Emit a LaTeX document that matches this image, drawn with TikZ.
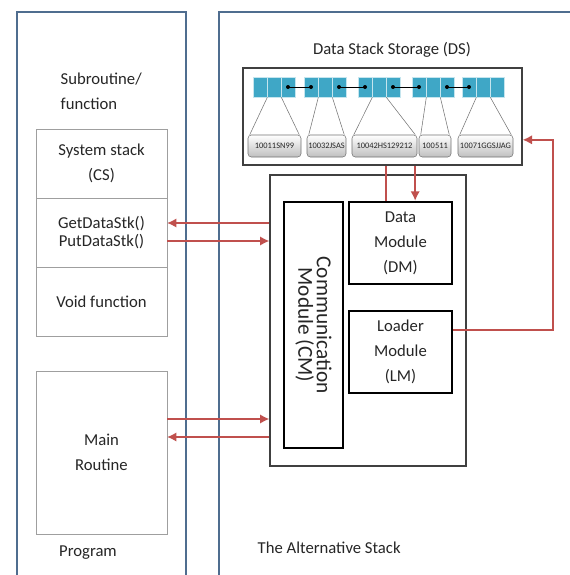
\documentclass[tikz,border=0pt]{standalone}
\usepackage{fontspec}
\setmainfont{Carlito}
\usetikzlibrary{positioning,arrows.meta}
\definecolor{panelblue}{HTML}{4F6D8F}
\definecolor{linkred}{HTML}{C0504D}
\definecolor{cellblue}{HTML}{3FA7C6}

\begin{document}
\begin{tikzpicture}[
  x=0.75pt, y=-0.75pt,
  node distance=0pt,
  every node/.style={text=black!85, font=\fontsize{12.5}{18.75}\selectfont},
  panel/.style={draw=panelblue, line width=1.1pt},
  slot/.style={draw=gray!75, line width=0.6pt, minimum width=98.25pt,
    minimum height=51.75pt, inner sep=0pt, outer sep=0pt, align=center},
  module/.style={draw=black, line width=1.8pt, minimum width=77.25pt,
    minimum height=61.5pt, inner sep=0pt, align=center},
  frame/.style={draw=black!75, line width=0.8pt, inner sep=0pt},
  cell/.style={fill=cellblue, draw=cellblue!30, line width=0.5pt,
    minimum width=10.5pt, minimum height=15pt, inner sep=0pt},
  tag/.style={draw=black!55, rounded corners=2.5pt, top color=white,
    bottom color=black!25, minimum height=16.5pt, inner sep=0pt,
    font=\fontsize{6.3}{7}\selectfont},
  fan/.style={draw=black!55, line width=0.4pt},
  flow/.style={draw=linkred, line width=2.1pt, -{Latex[length=7pt,width=7pt]}}
]
\useasboundingbox[fill=white] (0,0) rectangle (570,575);

% the two panels
\draw[panel] (17,575) -- (17,12) -- (186,12) -- (186,575);
\draw[panel] (219,575) -- (219,12) -- (570,12);

% program side
\node[align=left, anchor=west] (sub) at (56,91) {Subroutine/\\function};
\node[slot] (cs) at (101.5,163.5) {System stack\\(CS)};
\node[slot, below=of cs, font=\fontsize{12.5}{13.5}\selectfont] (gp) {GetDataStk()\\PutDataStk()};
\node[slot, below=of gp] (vf) {Void function};
\node[slot, minimum height=122.25pt] (mr) at (101.5,452.5) {Main\\Routine};
\node (prog) at (88,553) {Program};

% alternative stack side
\node[frame, minimum width=147pt, minimum height=218.25pt] (cont) at (368,320.5) {};
\node[module, rotate=-90, minimum width=184.5pt, minimum height=44.25pt,
  font=\fontsize{16}{14}\selectfont] (cm) at (313.5,325) {Communication\\Module (CM)};
\node[module] (dm) at (400.5,243) {Data\\Module\\(DM)};
\node[module] (lm) at (400.5,352) {Loader\\Module\\(LM)};
\node[frame, line width=1pt, minimum width=209.25pt, minimum height=72.75pt] (ds) at (382.5,116.5) {};
\node (dstitle) at (392,50) {Data Stack Storage (DS)};
\node[anchor=west] (alt) at (253,548) {The Alternative Stack};

% data stack cells
\foreach \g/\x in {1/253,2/304,3/358,4/412,5/462}
  \foreach \c in {1,2,3}
    \node[cell] (c\g\c) at ({\x+14*\c-7},87) {};
\foreach \a/\b in {13/21,23/31,33/41,43/51}
  \draw[line width=0.6pt] (c\a.center) -- (c\b.center);
\foreach \d in {13,21,23,31,33,41,43,51}
  \fill (c\d) circle (2);

% keys under the cells
\foreach \g/\x/\w/\t in {1/274.5/53/10011SN99, 2/326.5/39/10032JSAS,
    3/384.5/65/10042HS129212, 4/435/32/100511, 5/485.5/55/10071GGSJJAG}
  \node[tag, minimum width=\w*0.75pt] (t\g) at (\x,146) {\t};
\foreach \g in {1,...,5}{
  \draw[fan] (c\g1.south east) -- ([xshift=1.5pt]t\g.north west);
  \draw[fan] (c\g2.south east) -- ([xshift=-1.5pt]t\g.north east);
}

% calls between program and stack
\draw[flow] (cont.west |- 0,223) -- (gp.east |- 0,223);
\draw[flow] (gp.east |- 0,241) -- (cont.west |- 0,241);
\draw[flow] (mr.east |- 0,419) -- (cont.west |- 0,419);
\draw[flow] (cont.west |- 0,437) -- (mr.east |- 0,437);

% storage links
\coordinate (dmup) at ([xshift=-11pt]dm.north);
\coordinate (dmdown) at ([xshift=11pt]dm.north);
\draw[flow, -, line width=1.5pt] (dmup) -- (dmup |- ds.south);
\draw[flow, line width=1.5pt] (dmdown |- ds.south) -- (dmdown);
\coordinate (lmout) at ([yshift=16.5pt]lm.east);
\coordinate (dsin) at ([yshift=-17.5pt]ds.east);
\coordinate (back) at (553,0);
\draw[flow, line width=1.2pt] (lmout) -- (lmout -| back) -- (back |- dsin) -- (dsin);
\end{tikzpicture}
\end{document}
